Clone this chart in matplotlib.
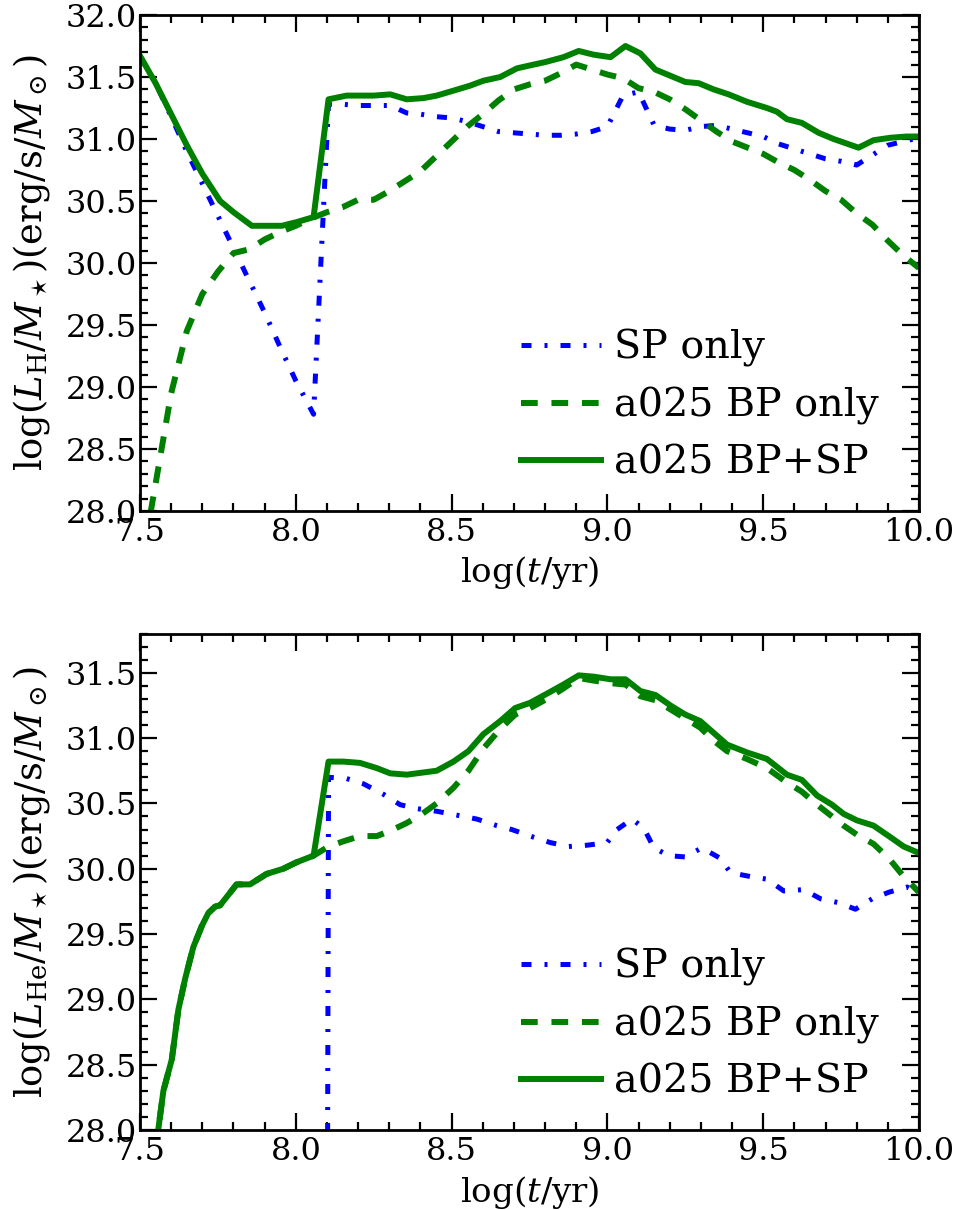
import matplotlib
matplotlib.use("Agg")
import matplotlib.pyplot as plt
from matplotlib.ticker import MultipleLocator

plt.rcParams['font.family'] = 'DejaVu Serif'
plt.rcParams['mathtext.fontset'] = 'dejavuserif'

# ---- top panel: H luminosity ----
h_sp_t = [7.5, 7.55, 7.6, 7.65, 7.7, 7.75, 7.8, 7.85, 7.9, 7.95, 8.0, 8.057,
          8.105, 8.15, 8.2, 8.25, 8.303, 8.356, 8.4, 8.45, 8.5, 8.55, 8.6, 8.65,
          8.7, 8.75, 8.8, 8.85, 8.9, 8.95, 9.0, 9.05, 9.1, 9.15, 9.2, 9.25, 9.3,
          9.35, 9.4, 9.45, 9.5, 9.55, 9.6, 9.65, 9.7, 9.75, 9.8, 9.85, 9.9, 9.95, 10.0]
h_sp = [31.67, 31.45, 31.18, 30.90, 30.64, 30.38, 30.12, 29.86, 29.60, 29.32, 29.05, 28.78,
        31.28, 31.28, 31.27, 31.27, 31.27, 31.21, 31.20, 31.18, 31.17, 31.14, 31.10, 31.06,
        31.05, 31.04, 31.03, 31.03, 31.04, 31.06, 31.10, 31.35, 31.38, 31.11, 31.08, 31.07, 31.10,
        31.11, 31.08, 31.05, 31.02, 30.96, 30.92, 30.88, 30.84, 30.82, 30.79, 30.87, 30.95, 30.98, 31.01]

h_bp_t = [7.5, 7.55, 7.6, 7.65, 7.7, 7.75, 7.8, 7.85, 7.9, 7.95, 8.0, 8.05, 8.1,
          8.15, 8.2, 8.25, 8.3, 8.35, 8.4, 8.45, 8.5, 8.55, 8.6, 8.65, 8.7, 8.75,
          8.8, 8.85, 8.9, 8.95, 9.0, 9.05, 9.1, 9.15, 9.2, 9.25, 9.3, 9.35, 9.4,
          9.45, 9.5, 9.55, 9.6, 9.65, 9.7, 9.75, 9.8, 9.85, 9.9, 9.95, 10.0]
h_bp = [27.5, 28.22, 28.95, 29.45, 29.75, 29.93, 30.08, 30.11, 30.19, 30.25, 30.30, 30.36, 30.41,
        30.45, 30.51, 30.51, 30.58, 30.66, 30.74, 30.86, 30.98, 31.10, 31.20, 31.31, 31.40, 31.44,
        31.47, 31.53, 31.60, 31.56, 31.52, 31.49, 31.41, 31.38, 31.32, 31.24, 31.15, 31.06, 30.98,
        30.93, 30.88, 30.81, 30.75, 30.67, 30.58, 30.51, 30.40, 30.31, 30.18, 30.06, 29.96]

h_tot_t = [7.5, 7.55, 7.6, 7.65, 7.7, 7.757, 7.8, 7.859, 7.9, 7.955, 8.003, 8.057,
           8.105, 8.163, 8.2, 8.25, 8.303, 8.356, 8.41, 8.452, 8.506, 8.559, 8.602, 8.656,
           8.71, 8.763, 8.8, 8.859, 8.908, 8.956, 9.01, 9.058, 9.106, 9.154, 9.202, 9.25,
           9.293, 9.341, 9.389, 9.448, 9.512, 9.544, 9.576, 9.624, 9.678, 9.726, 9.806,
           9.854, 9.908, 9.96, 10.0]
h_tot = [31.67, 31.45, 31.20, 30.95, 30.72, 30.50, 30.41, 30.30, 30.30, 30.30, 30.33, 30.37,
         31.32, 31.35, 31.35, 31.35, 31.36, 31.32, 31.33, 31.35, 31.39, 31.43, 31.47, 31.50,
         31.57, 31.60, 31.62, 31.66, 31.71, 31.68, 31.66, 31.75, 31.69, 31.56, 31.51, 31.46,
         31.45, 31.40, 31.36, 31.30, 31.25, 31.22, 31.16, 31.13, 31.05, 31.00, 30.93,
         30.99, 31.01, 31.02, 31.02]

# ---- bottom panel: He luminosity ----
he_sp_t = [8.100, 8.105, 8.163, 8.217, 8.281, 8.335, 8.388, 8.452, 8.517, 8.581, 8.645,
           8.693, 8.752, 8.817, 8.876, 8.935, 8.999, 9.031, 9.079, 9.117, 9.149, 9.197,
           9.25, 9.303, 9.362, 9.395, 9.459, 9.512, 9.566, 9.63, 9.684, 9.742, 9.796,
           9.85, 9.903, 9.962, 10.0]
he_sp = [26.0, 30.70, 30.69, 30.65, 30.57, 30.49, 30.46, 30.44, 30.41, 30.38, 30.33,
         30.30, 30.25, 30.20, 30.17, 30.18, 30.20, 30.30, 30.38, 30.31, 30.16, 30.10,
         30.09, 30.16, 30.08, 29.97, 29.94, 29.92, 29.83, 29.84, 29.77, 29.74, 29.69,
         29.77, 29.82, 29.86, 29.81]

he_early_t = [7.55, 7.575, 7.602, 7.623, 7.645, 7.671, 7.698, 7.719, 7.741, 7.757,
              7.81, 7.853, 7.906, 7.96, 8.003, 8.057]
he_early = [27.85, 28.30, 28.54, 28.92, 29.16, 29.40, 29.56, 29.66, 29.71, 29.72,
            29.88, 29.88, 29.96, 30.00, 30.05, 30.10]

he_bp_t = he_early_t + [8.105, 8.153, 8.206, 8.26, 8.303, 8.356, 8.40, 8.452, 8.506,
                        8.554, 8.602, 8.656, 8.704, 8.752, 8.806, 8.859, 8.908, 8.956,
                        9.01, 9.058, 9.106, 9.154, 9.202, 9.25, 9.298, 9.341, 9.384,
                        9.448, 9.512, 9.576, 9.624, 9.673, 9.721, 9.758, 9.801, 9.854,
                        9.903, 9.951, 10.0]
he_bp = he_early + [30.17, 30.21, 30.25, 30.25, 30.29, 30.35, 30.41, 30.50, 30.62,
                    30.75, 30.92, 31.07, 31.18, 31.23, 31.30, 31.38, 31.46, 31.44,
                    31.42, 31.41, 31.32, 31.29, 31.22, 31.15, 31.08, 30.98, 30.90,
                    30.84, 30.77, 30.66, 30.59, 30.49, 30.40, 30.33, 30.26, 30.19,
                    30.08, 29.94, 29.82]

he_tot_t = he_early_t + [8.105, 8.153, 8.206, 8.26, 8.303, 8.356, 8.452, 8.506, 8.554,
                         8.602, 8.656, 8.704, 8.752, 8.806, 8.859, 8.908, 8.956, 9.01,
                         9.058, 9.106, 9.154, 9.202, 9.25, 9.298, 9.341, 9.384, 9.448,
                         9.512, 9.576, 9.624, 9.673, 9.721, 9.758, 9.801, 9.854, 9.903,
                         9.951, 10.0]
he_tot = he_early + [30.82, 30.82, 30.81, 30.77, 30.73, 30.72, 30.75, 30.82, 30.90,
                     31.03, 31.13, 31.23, 31.27, 31.34, 31.41, 31.48, 31.47, 31.45,
                     31.45, 31.36, 31.33, 31.25, 31.18, 31.13, 31.04, 30.95, 30.89,
                     30.84, 30.72, 30.68, 30.56, 30.49, 30.42, 30.37, 30.33, 30.25,
                     30.17, 30.12]

labels = ['SP only', 'a025 BP only', 'a025 BP+SP']
ylabels = [r'$\log(L_{\rm H}/M_\star)({\rm erg/s}/M_\odot)$',
           r'$\log(L_{\rm He}/M_\star)({\rm erg/s}/M_\odot)$']

fig = plt.figure(figsize=(9.63, 12.10), dpi=100)
ax1 = fig.add_axes([0.1454, 0.5777, 0.8089, 0.4099])
ax2 = fig.add_axes([0.1454, 0.0661, 0.8089, 0.4103])

panels = [(ax1, h_sp_t, h_sp, h_bp_t, h_bp, h_tot_t, h_tot, 32.0),
          (ax2, he_sp_t, he_sp, he_bp_t, he_bp, he_tot_t, he_tot, 31.8)]

for i, (ax, st, sv, bt, bv, tt, tv, ytop) in enumerate(panels):
    ax.plot(st, sv, color='blue', lw=3.6, dashes=(2.0, 2.6, 0.6, 2.6), label=labels[0])
    ax.plot(bt, bv, color='green', lw=4.3, dashes=(2.8, 2.3), label=labels[1])
    ax.plot(tt, tv, color='green', lw=4.3, label=labels[2])
    ax.set_xlim(7.5, 10.0)
    ax.set_ylim(28.0, ytop)
    ax.xaxis.set_major_locator(MultipleLocator(0.5))
    ax.xaxis.set_minor_locator(MultipleLocator(0.1))
    ax.yaxis.set_major_locator(MultipleLocator(0.5))
    ax.yaxis.set_minor_locator(MultipleLocator(0.1))
    ax.tick_params(which='both', direction='in', top=True, right=True,
                   labelsize=23, width=1.6)
    ax.tick_params(which='major', length=12, pad=4)
    ax.tick_params(which='minor', length=6)
    ax.tick_params(axis='y', which='major', pad=2)
    for s in ax.spines.values():
        s.set_linewidth(2)
    ax.set_xlabel(r'$\log(t/{\rm yr})$', fontsize=24.5, labelpad=5)
    ax.set_ylabel(ylabels[i], fontsize=26.5, labelpad=10)
    ax.legend(loc='lower right', bbox_to_anchor=(0.969, 0.027), frameon=False,
              fontsize=28.5, handlelength=2.02, handletextpad=0.33,
              labelspacing=0.5, borderaxespad=0.0)

fig.savefig('out.png', dpi=100)
